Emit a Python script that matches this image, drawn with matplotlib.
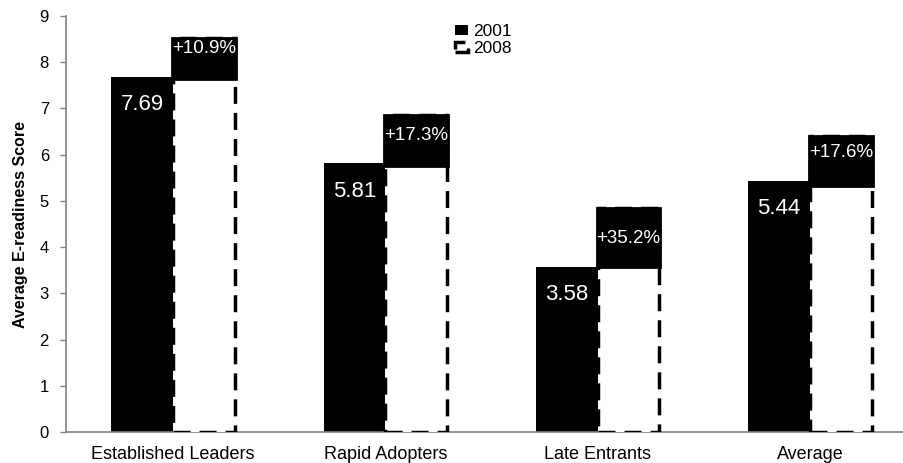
import numpy as np
import matplotlib.pyplot as plt

plt.rcParams['font.family'] = ['Liberation Sans', 'DejaVu Sans']

# Data
categories = ['Established Leaders', 'Rapid Adopters', 'Late Entrants', 'Average']
score_2001 = [7.69, 5.81, 3.58, 5.44]
score_2008 = [8.53, 6.86, 4.85, 6.40]
box_bottom = [7.63, 5.76, 3.56, 5.33]   # lower edge of the black growth box
growth_labels = ['+10.9%', '+17.3%', '+35.2%', '+17.6%']
value_labels = ['7.69', '5.81', '3.58', '5.44']
yticks = [0, 1, 2, 3, 4, 5, 6, 7, 8, 9]

fig = plt.figure(figsize=(9.04, 4.63), dpi=100)
ax = fig.add_axes([66/904, 31/463, 838/904, 416/463])

x = np.arange(len(categories))
w = 0.29
grey = '#808080'

b01 = ax.bar(x - w/2, score_2001, width=w, color='black', edgecolor='none',
             zorder=2, label='2001')
b08 = ax.bar(x + w/2, score_2008, width=w, color='white', edgecolor='black',
             linewidth=2.5, linestyle=(0, (4.9, 2.6)), zorder=3, label='2008')

# black box with growth percentage on top of the 2008 bars
heights = np.array(score_2008) - np.array(box_bottom)
ax.bar(x + w/2, heights, width=0.3, bottom=box_bottom, color='black',
       edgecolor='black', linewidth=2.0, zorder=4)

for i in range(len(categories)):
    ax.text(x[i] - w/2, score_2001[i] - 0.6, value_labels[i], color='white',
            fontsize=16, ha='center', va='center', zorder=5)
    ax.text(x[i] + w/2, score_2001[i] + 0.6, growth_labels[i], color='white',
            fontsize=13.5, ha='center', va='center', zorder=5)

ax.set_xlim(-0.504, 3.443)
ax.set_ylim(0, 9)
ax.set_yticks(yticks)
ax.set_xticks(x)
ax.set_xticklabels(categories, fontsize=13)
ax.tick_params(axis='x', length=0, pad=10)
ax.tick_params(axis='y', length=4.3, width=1, color=grey, pad=8, labelsize=12)

for s in ['top', 'right']:
    ax.spines[s].set_visible(False)
for s in ['left', 'bottom']:
    ax.spines[s].set_color(grey)
    ax.spines[s].set_linewidth(1.2)

ax.set_ylabel('Average E-readiness Score', fontsize=11.5, fontweight='bold')
ax.yaxis.set_label_coords(-0.045, 0.5)

ax.legend(handles=[b01, b08], loc='upper left',
          bbox_to_anchor=(455/904, 1 - 24/463), bbox_transform=fig.transFigure,
          frameon=False, fontsize=12.5, borderpad=0, borderaxespad=0,
          handlelength=0.75, handleheight=0.5, handletextpad=0.3,
          labelspacing=0.1)

fig.savefig('out.png', dpi=100)
